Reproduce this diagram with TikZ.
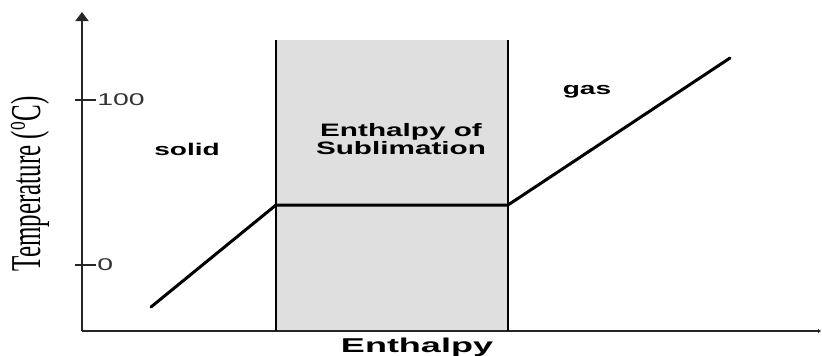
\documentclass[tikz,border=0pt]{standalone}
\usepackage{fontspec}
\setmainfont{Liberation Sans}
\newfontfamily\serifx{Liberation Serif}
\usetikzlibrary{arrows.meta}
\begin{document}
\begin{tikzpicture}[x=1pt,y=-1pt,
  axis/.style={line width=1.5pt,draw=black!85},
  tickmark/.style={line width=2.4pt,draw=black!85},
  curve/.style={line width=3pt,line cap=round,line join=round},
  wall/.style={line width=1.6pt},
  lbl/.style={font=\fontsize{17}{18}\selectfont\bfseries,text=black,xscale=1.65,inner sep=0pt},
  ticklbl/.style={font=\fontsize{17}{18}\selectfont,text=black!80,xscale=1.67,inner sep=0pt}]
\useasboundingbox (0,0) rectangle (822,356);
% shaded region
\fill[gray!25] (276,40) rectangle (508,330);
% axes
\coordinate (o) at (82,331);
\coordinate (ytop) at (82,12);
\coordinate (xend) at (821,331);
\draw[axis,-{Triangle[length=9pt,width=13pt]}] (o) -- (ytop);
\draw[axis,-{Triangle[length=3pt,width=4pt]}] (o) -- (xend);
% ticks
\coordinate (t100a) at (75,100); \coordinate (t100b) at (96,100);
\coordinate (t0a) at (75,265); \coordinate (t0b) at (96,265);
\draw[tickmark] (t100a) -- (t100b);
\draw[tickmark] (t0a) -- (t0b);
\node[ticklbl,anchor=west] (l100) at (97,100) {100};
\node[ticklbl,anchor=west] (l0) at (97,265) {0};
% walls
\coordinate (wl1) at (276,40); \coordinate (wl2) at (276,331);
\coordinate (wr1) at (508,40); \coordinate (wr2) at (508,331);
\draw[wall] (wl1) -- (wl2);
\draw[wall] (wr1) -- (wr2);
% heating curve
\coordinate (p0) at (151,307);
\coordinate (p1) at (276,205);
\coordinate (p2) at (508,205);
\coordinate (p3) at (730,58);
\draw[curve] (p0) -- (p1) -- (p2) -- (p3);
% labels
\node[lbl,anchor=base] (solid) at (187,155) {solid};
\node[lbl,anchor=base] (gas) at (587,94) {gas};
\node[lbl,align=center,font=\fontsize{18}{18}\selectfont\bfseries] (sub) at (401,139) {Enthalpy of\\Sublimation};
\node[anchor=base,font=\fontsize{20}{22}\selectfont\bfseries,text=black,xscale=1.8,inner sep=0pt] (xl) at (417,352) {Enthalpy};
\node[xscale=1.7,rotate=90,font=\serifx\fontsize{25}{26}\selectfont,inner sep=0pt] (yl) at (30,184) {Temperature (\textsuperscript{o}C)};
\end{tikzpicture}
\end{document}
